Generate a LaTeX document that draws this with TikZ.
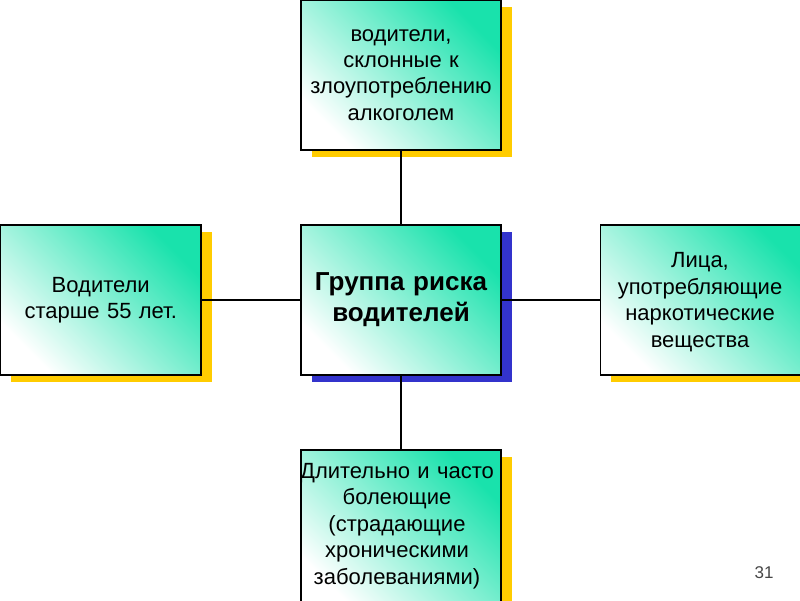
\documentclass[tikz,border=0pt]{standalone}
\usepackage{fontspec}
\setmainfont{Liberation Sans}
\usetikzlibrary{shadows}
\definecolor{mint}{RGB}{25,226,172}
\definecolor{shyellow}{RGB}{255,204,0}
\definecolor{shblue}{RGB}{51,51,204}
\definecolor{pagenum}{RGB}{70,70,70}
\begin{document}
\begin{tikzpicture}[x=1pt,y=-1pt,
  box/.style={draw=black, line width=1.3pt, minimum width=200pt, minimum height=150pt,
    inner sep=0pt, top color=mint, bottom color=white, shading angle=-45,
    align=center, text width=198pt},
  yshadow/.style={general shadow={fill=shyellow, shadow xshift=10.5pt, shadow yshift=-6.5pt}},
  bshadow/.style={general shadow={fill=shblue, shadow xshift=10.5pt, shadow yshift=-6.5pt}},
  plain/.style={font=\fontsize{22}{26.3}\selectfont},
  boldtxt/.style={font=\fontsize{26}{31}\selectfont\bfseries},
  boxtext/.style={align=center, inner sep=0pt, text width=198pt, font=\fontsize{22}{26.5}\selectfont},
  link/.style={draw=black, line width=1.5pt}]
\useasboundingbox (0,0) rectangle (800,600);
\clip (0,0) rectangle (800,600);
\node[box, yshadow, plain] (top) at (401,75) {водители,\\склонные к\\злоупотреблению\\алкоголем};
\node[box, bshadow, boldtxt] (center) at (401,300) {Группа риска\\водителей};
\node[box, yshadow, plain, minimum width=200.5pt] (left) at (100.75,300) {Водители\\старше 55 лет.};
\node[box, yshadow, minimum width=210pt] (right) at (705.5,300) {};
\node[boxtext] (righttext) at (700,302) {Лица,\\употребляющие\\наркотические\\вещества};
\node[box, yshadow, minimum height=160pt] (bottom) at (401,530) {};
\node[boxtext, text width=205pt] (bottomtext) at (397,526) {Длительно и часто\\болеющие\\(страдающие\\хроническими\\заболеваниями)};
\draw[link] (top) -- (center);
\draw[link] (center) -- (bottom);
\draw[link] (left) -- (center);
\draw[link] (center) -- (right);
\node[text=pagenum, font=\fontsize{17}{20}\selectfont, inner sep=0pt] (pnum) at (764,573) {31};
\end{tikzpicture}
\end{document}
